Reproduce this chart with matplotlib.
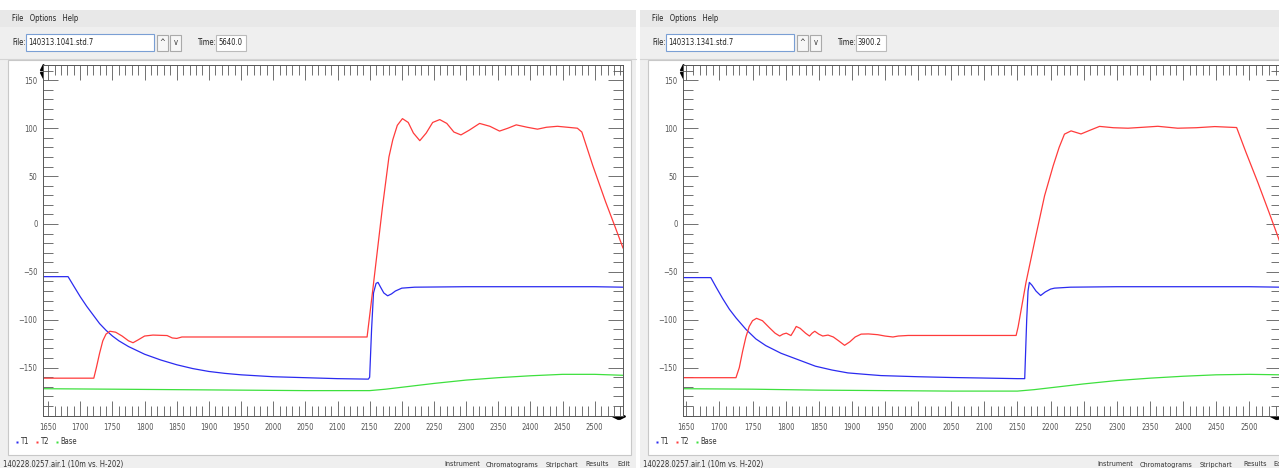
import matplotlib
matplotlib.use("Agg")
import matplotlib.pyplot as plt
from matplotlib.patches import Rectangle
from matplotlib.ticker import MultipleLocator, FixedLocator

plt.rcParams['font.family'] = ['DejaVu Sans']
plt.rcParams['font.stretch'] = 'condensed'

W, H = 1279, 468

# ---- left window (140313.1041.std.7) ----
left_t1_x = [1642, 1681, 1690, 1700, 1710, 1720, 1730, 1740, 1750, 1760, 1775, 1800, 1825, 1850,
             1875, 1900, 1925, 1950, 2000, 2050, 2100, 2148, 2150, 2153, 2156, 2160, 2163, 2167,
             2172, 2178, 2184, 2190, 2200, 2220, 2300, 2400, 2500, 2544]
left_t1_y = [-55, -55, -65, -76, -86, -95, -104, -111, -117, -122, -128, -136, -142, -147,
             -151, -154, -156, -157.5, -159.5, -160.5, -161.5, -162, -160, -110, -72, -62, -61, -66,
             -72, -75, -73, -70, -67, -66, -65.5, -65.5, -65.5, -66]

left_t2_x = [1642, 1721, 1725, 1730, 1735, 1740, 1746, 1755, 1765, 1775, 1782, 1790, 1800, 1813,
             1835, 1843, 1850, 1858, 1875, 2146, 2155, 2170, 2180, 2186, 2193, 2201, 2210, 2218,
             2228, 2238, 2248, 2259, 2270, 2281, 2292, 2305, 2321, 2337, 2352, 2365, 2378, 2395,
             2411, 2425, 2442, 2473, 2480, 2497, 2517, 2530, 2544]
left_t2_y = [-161, -161, -150, -135, -122, -115, -112, -113, -117, -122, -124, -121, -117, -116,
             -116.5, -119, -119.5, -118, -118, -118, -68, 18, 70, 88, 103, 110, 106, 95,
             87, 95, 106, 109, 105, 96, 93, 98, 105, 102, 97, 100, 103.5, 101,
             99, 101, 102, 100, 96, 61, 23, 0, -25]

left_base_x = [1642, 1750, 1850, 1950, 2050, 2150, 2175, 2200, 2250, 2300, 2350, 2400, 2450, 2500, 2544]
left_base_y = [-172, -172.5, -173, -173.5, -174, -174, -172.5, -170.5, -166.5, -163, -160.5, -158.5,
               -157, -157, -158]

# ---- right window (140313.1341.std.7) ----
right_t1_x = [1645, 1687, 1695, 1705, 1715, 1725, 1740, 1755, 1770, 1793, 1820, 1845, 1870, 1894,
              1920, 1944, 2000, 2050, 2094, 2150, 2161, 2164, 2166, 2168, 2172, 2178, 2185, 2192,
              2200, 2206, 2230, 2300, 2400, 2500, 2548]
right_t1_y = [-56, -56, -66, -78, -89, -98, -110, -120, -127, -135, -142, -148.5, -152.5, -155.5,
              -157, -158.3, -159.5, -160.3, -160.8, -161.5, -161.5, -100, -70, -61, -64, -70, -74.7, -71,
              -68, -67, -66, -65.5, -65.5, -65.5, -66]

right_t2_x = [1645, 1725, 1730, 1735, 1740, 1745, 1750, 1756, 1765, 1775, 1784, 1791, 1796, 1801,
              1808, 1812, 1816, 1822, 1830, 1836, 1840, 1844, 1850, 1856, 1864, 1872, 1880, 1889,
              1897, 1905, 1914, 1925, 1939, 1950, 1962, 1970, 1985, 2148, 2151, 2163, 2177, 2191,
              2204, 2213, 2221, 2231, 2246, 2260, 2274, 2295, 2317, 2340, 2362, 2392, 2420, 2448,
              2481, 2495, 2513, 2530, 2548]
right_t2_y = [-160.5, -160.5, -150, -133, -118, -107, -101, -98.5, -101, -108, -114, -117, -115, -114,
              -116.5, -112, -107, -109, -114, -117, -114, -112, -115, -117, -116, -118, -122, -126.7,
              -123, -118, -115, -114.8, -115.6, -117, -118, -117, -116.4, -116.4, -107.6, -60.8, -15, 29.5,
              60.8, 80, 93.8, 97.2, 94, 98, 101.9, 100.5, 100, 101, 102, 100, 100.5, 101.7,
              100.7, 75, 43.4, 12, -22]

right_base_x = [1645, 1750, 1850, 1950, 2050, 2150, 2175, 2200, 2250, 2300, 2350, 2400, 2450, 2500, 2548]
right_base_y = [-172, -172.5, -173.5, -174, -174.5, -174.5, -173, -171, -167, -163.5, -161, -159,
                -157.5, -157, -157.5]

series_names = ["T1", "T2", "Base"]
series_colors = ["#2b2bf0", "#ff3b3b", "#3ee03e"]
status_words = ["Instrument", "Chromatograms", "Stripchart", "Results", "Edit"]

fig = plt.figure(figsize=(W / 100, H / 100), dpi=100)
fig.patch.set_facecolor("white")
bg = fig.add_axes([0, 0, 1, 1])
bg.set_xlim(0, W)
bg.set_ylim(H, 0)
bg.axis("off")


def box(x0, y0, x1, y1, fc, ec="none", lw=0.8):
    bg.add_patch(Rectangle((x0, y0), x1 - x0, y1 - y0, facecolor=fc, edgecolor=ec, linewidth=lw))


def window(ox, width, fname, time, word_x):
    box(ox, 10, ox + width, 468, "#efefef")
    box(ox, 10, ox + width, 27, "#e8e8e8")
    bg.text(ox + 12, 18.5, "File   Options   Help", fontsize=5.5, va="center", color="#222222")
    bg.plot([ox, ox + width], [58.5, 58.5], color="#d4d4d4", lw=0.8)
    bg.text(ox + 12, 42.5, "File:", fontsize=5.5, va="center", color="#222222")
    box(ox + 26, 34, ox + 154, 51, "white", "#7a9fd4")
    bg.text(ox + 28, 42.5, fname, fontsize=5.5, va="center", color="#222222")
    for bx, sym in [(ox + 157, "^"), (ox + 170, "v")]:
        box(bx, 34.5, bx + 11, 50.5, "#f7f7f7", "#aaaaaa")
        bg.text(bx + 5.5, 42.5, sym, fontsize=5.5, ha="center", va="center", color="#333333")
    bg.text(ox + 197, 42.5, "Time:", fontsize=5.5, va="center", color="#222222")
    box(ox + 216, 34.5, ox + 246, 50.5, "white", "#bbbbbb")
    bg.text(ox + 218, 42.5, time, fontsize=5.5, va="center", color="#222222")
    box(ox + 8, 59.5, ox + width - 5, 454.5, "white", "#c8c8c8")
    bg.text(ox + 3, 464.5, "140228.0257.air.1 (10m vs. H-202)", fontsize=5.5, va="center",
            color="#333333")
    for wx, word in zip(word_x, status_words):
        bg.text(ox + wx, 464.5, word, fontsize=5.2, va="center", color="#333333", clip_on=True)
    for i, name in enumerate(series_names):
        bg.plot(ox + 17 + 20 * i, 441.5, "s", ms=1.8, color=series_colors[i], mec="none")
        bg.text(ox + 20 + 20 * i, 441.5, name, fontsize=5.5, va="center", color="#333333")


window(0, 636, "140313.1041.std.7", "5640.0", [444, 486, 546, 585, 617])
window(640, 660, "140313.1341.std.7", "3900.2", [457, 500, 560, 603, 633])


def panel(px0, px1, xlim, curves):
    top, bottom = 65, 416
    ax = fig.add_axes([px0 / W, (H - bottom) / H, (px1 - px0) / W, (bottom - top) / H])
    ax.set_facecolor("white")
    for (xs, ys), c in zip(curves, series_colors):
        ax.plot(xs, ys, color=c, lw=0.9)
    ax.set_xlim(*xlim)
    ax.set_ylim(-200.5, 166)
    ax.xaxis.set_major_locator(MultipleLocator(50))
    ax.xaxis.set_minor_locator(MultipleLocator(10))
    ax.yaxis.set_major_locator(FixedLocator([-150, -100, -50, 0, 50, 100, 150]))
    ax.yaxis.set_minor_locator(MultipleLocator(10))
    ax.tick_params(which="both", direction="in", top=True, right=True, color="#5a5a5a",
                   labelcolor="#555555", labelsize=5.5, width=0.6)
    ax.tick_params(which="major", length=11)
    ax.tick_params(which="minor", length=7)
    ax.tick_params(axis="x", pad=5)
    ax.tick_params(axis="y", pad=4)
    for s in ax.spines.values():
        s.set_color("#555555")
        s.set_linewidth(0.7)
    # corner scroll arrows
    bg.plot(px0, 67, "^", ms=4, color="black", zorder=5)
    bg.plot(px0, 75, "v", ms=4, color="black", zorder=5)
    bg.plot(px1 - 8, 415.5, "<", ms=4, color="black", zorder=5)
    bg.plot(px1 - 1, 415.5, ">", ms=4, color="black", zorder=5)
    return ax


panel(43, 623, (1642, 2544), [(left_t1_x, left_t1_y), (left_t2_x, left_t2_y), (left_base_x, left_base_y)])
panel(683, 1281, (1645, 2548), [(right_t1_x, right_t1_y), (right_t2_x, right_t2_y), (right_base_x, right_base_y)])

fig.savefig("out.png", dpi=100)
